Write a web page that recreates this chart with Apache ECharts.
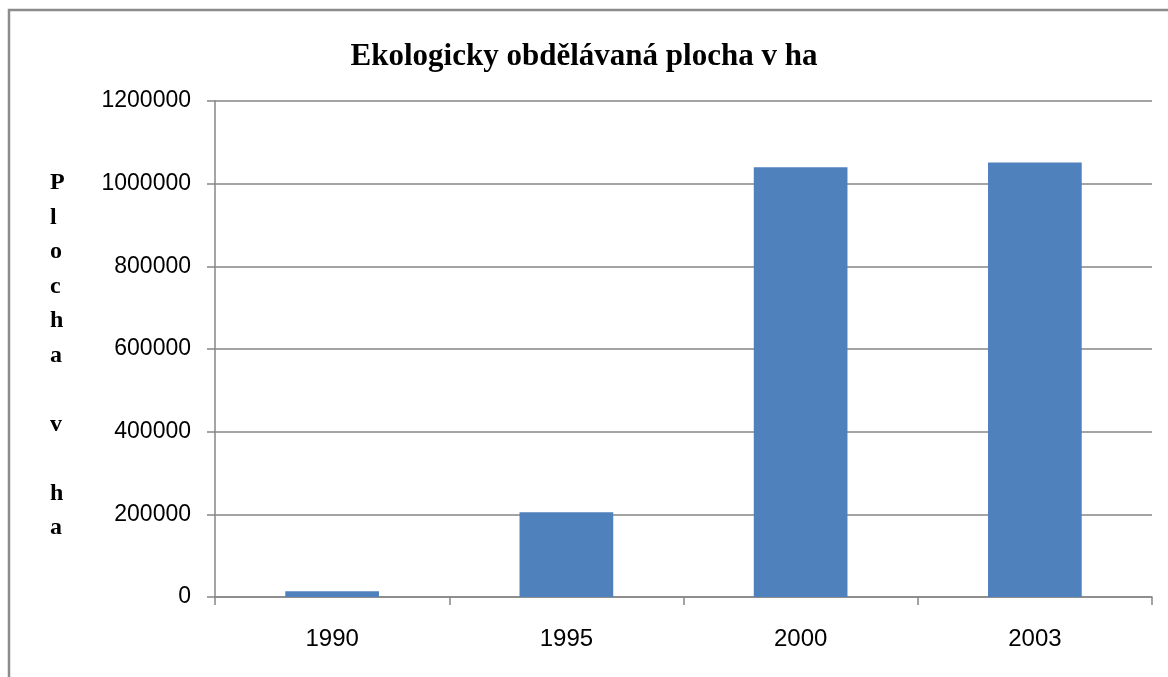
<!DOCTYPE html>
<html>
<head>
<meta charset="utf-8">
<script src="https://cdn.jsdelivr.net/npm/echarts@6/dist/echarts.min.js"></script>
<style>
  html, body { margin: 0; padding: 0; background: #fff; }
  #chart { width: 1168px; height: 677px; }
</style>
</head>
<body>
<div id="chart"></div>
<script>
// data
const years = ['1990', '1995', '2000', '2003'];
const area = [14000, 205000, 1040000, 1051000];
const yTicks = [0, 200000, 400000, 600000, 800000, 1000000, 1200000];

const chart = echarts.init(document.getElementById('chart'));

const option = {
    animation: false,
    backgroundColor: '#fff',
    title: {
        text: 'Ekologicky obdělávaná plocha v ha',
        left: 'center',
        top: 36,
        textStyle: {
            fontFamily: 'Liberation Serif',
            fontWeight: 'bold',
            fontSize: 31,
            color: '#000'
        }
    },
    graphic: [
        {
            type: 'rect',
            shape: { x: 9, y: 10, width: 1200, height: 720 },
            style: { fill: 'none', stroke: '#8c8c8c', lineWidth: 2.5 },
            silent: true
        },
        {
            // vertical axis title, one letter per line as in the original
            type: 'text',
            left: 50,
            top: 166,
            style: {
                text: 'P\nl\no\nc\nh\na\n\nv\n\nh\na',
                fontFamily: 'Liberation Serif',
                fontWeight: 'bold',
                fontSize: 24,
                lineHeight: 34.5,
                fill: '#000',
                align: 'center'
            }
        }
    ],
    grid: {
        left: 215,
        right: 16,
        top: 101,
        bottom: 80
    },
    xAxis: {
        type: 'category',
        data: years,
        axisLine: { lineStyle: { color: '#868686', width: 1.5 } },
        axisTick: { show: true, length: 8, interval: 0, lineStyle: { color: '#868686', width: 1.5 } },
        axisLabel: {
            margin: 30,
            fontFamily: 'Liberation Sans',
            fontSize: 24,
            color: '#000'
        }
    },
    yAxis: {
        type: 'value',
        min: yTicks[0],
        max: yTicks[yTicks.length - 1],
        interval: 200000,
        axisLine: { show: true, lineStyle: { color: '#868686', width: 1.5 } },
        axisTick: { show: true, length: 8, lineStyle: { color: '#868686', width: 1.5 } },
        splitLine: { lineStyle: { color: '#868686', width: 1.5 } },
        axisLabel: {
            margin: 24,
            fontFamily: 'Liberation Sans',
            fontSize: 23,
            color: '#000',
            formatter: v => String(v)
        }
    },
    series: [
        {
            type: 'bar',
            data: area,
            barWidth: '40%',
            itemStyle: { color: '#4F81BD' }
        }
    ]
};

chart.setOption(option);
</script>
</body>
</html>
